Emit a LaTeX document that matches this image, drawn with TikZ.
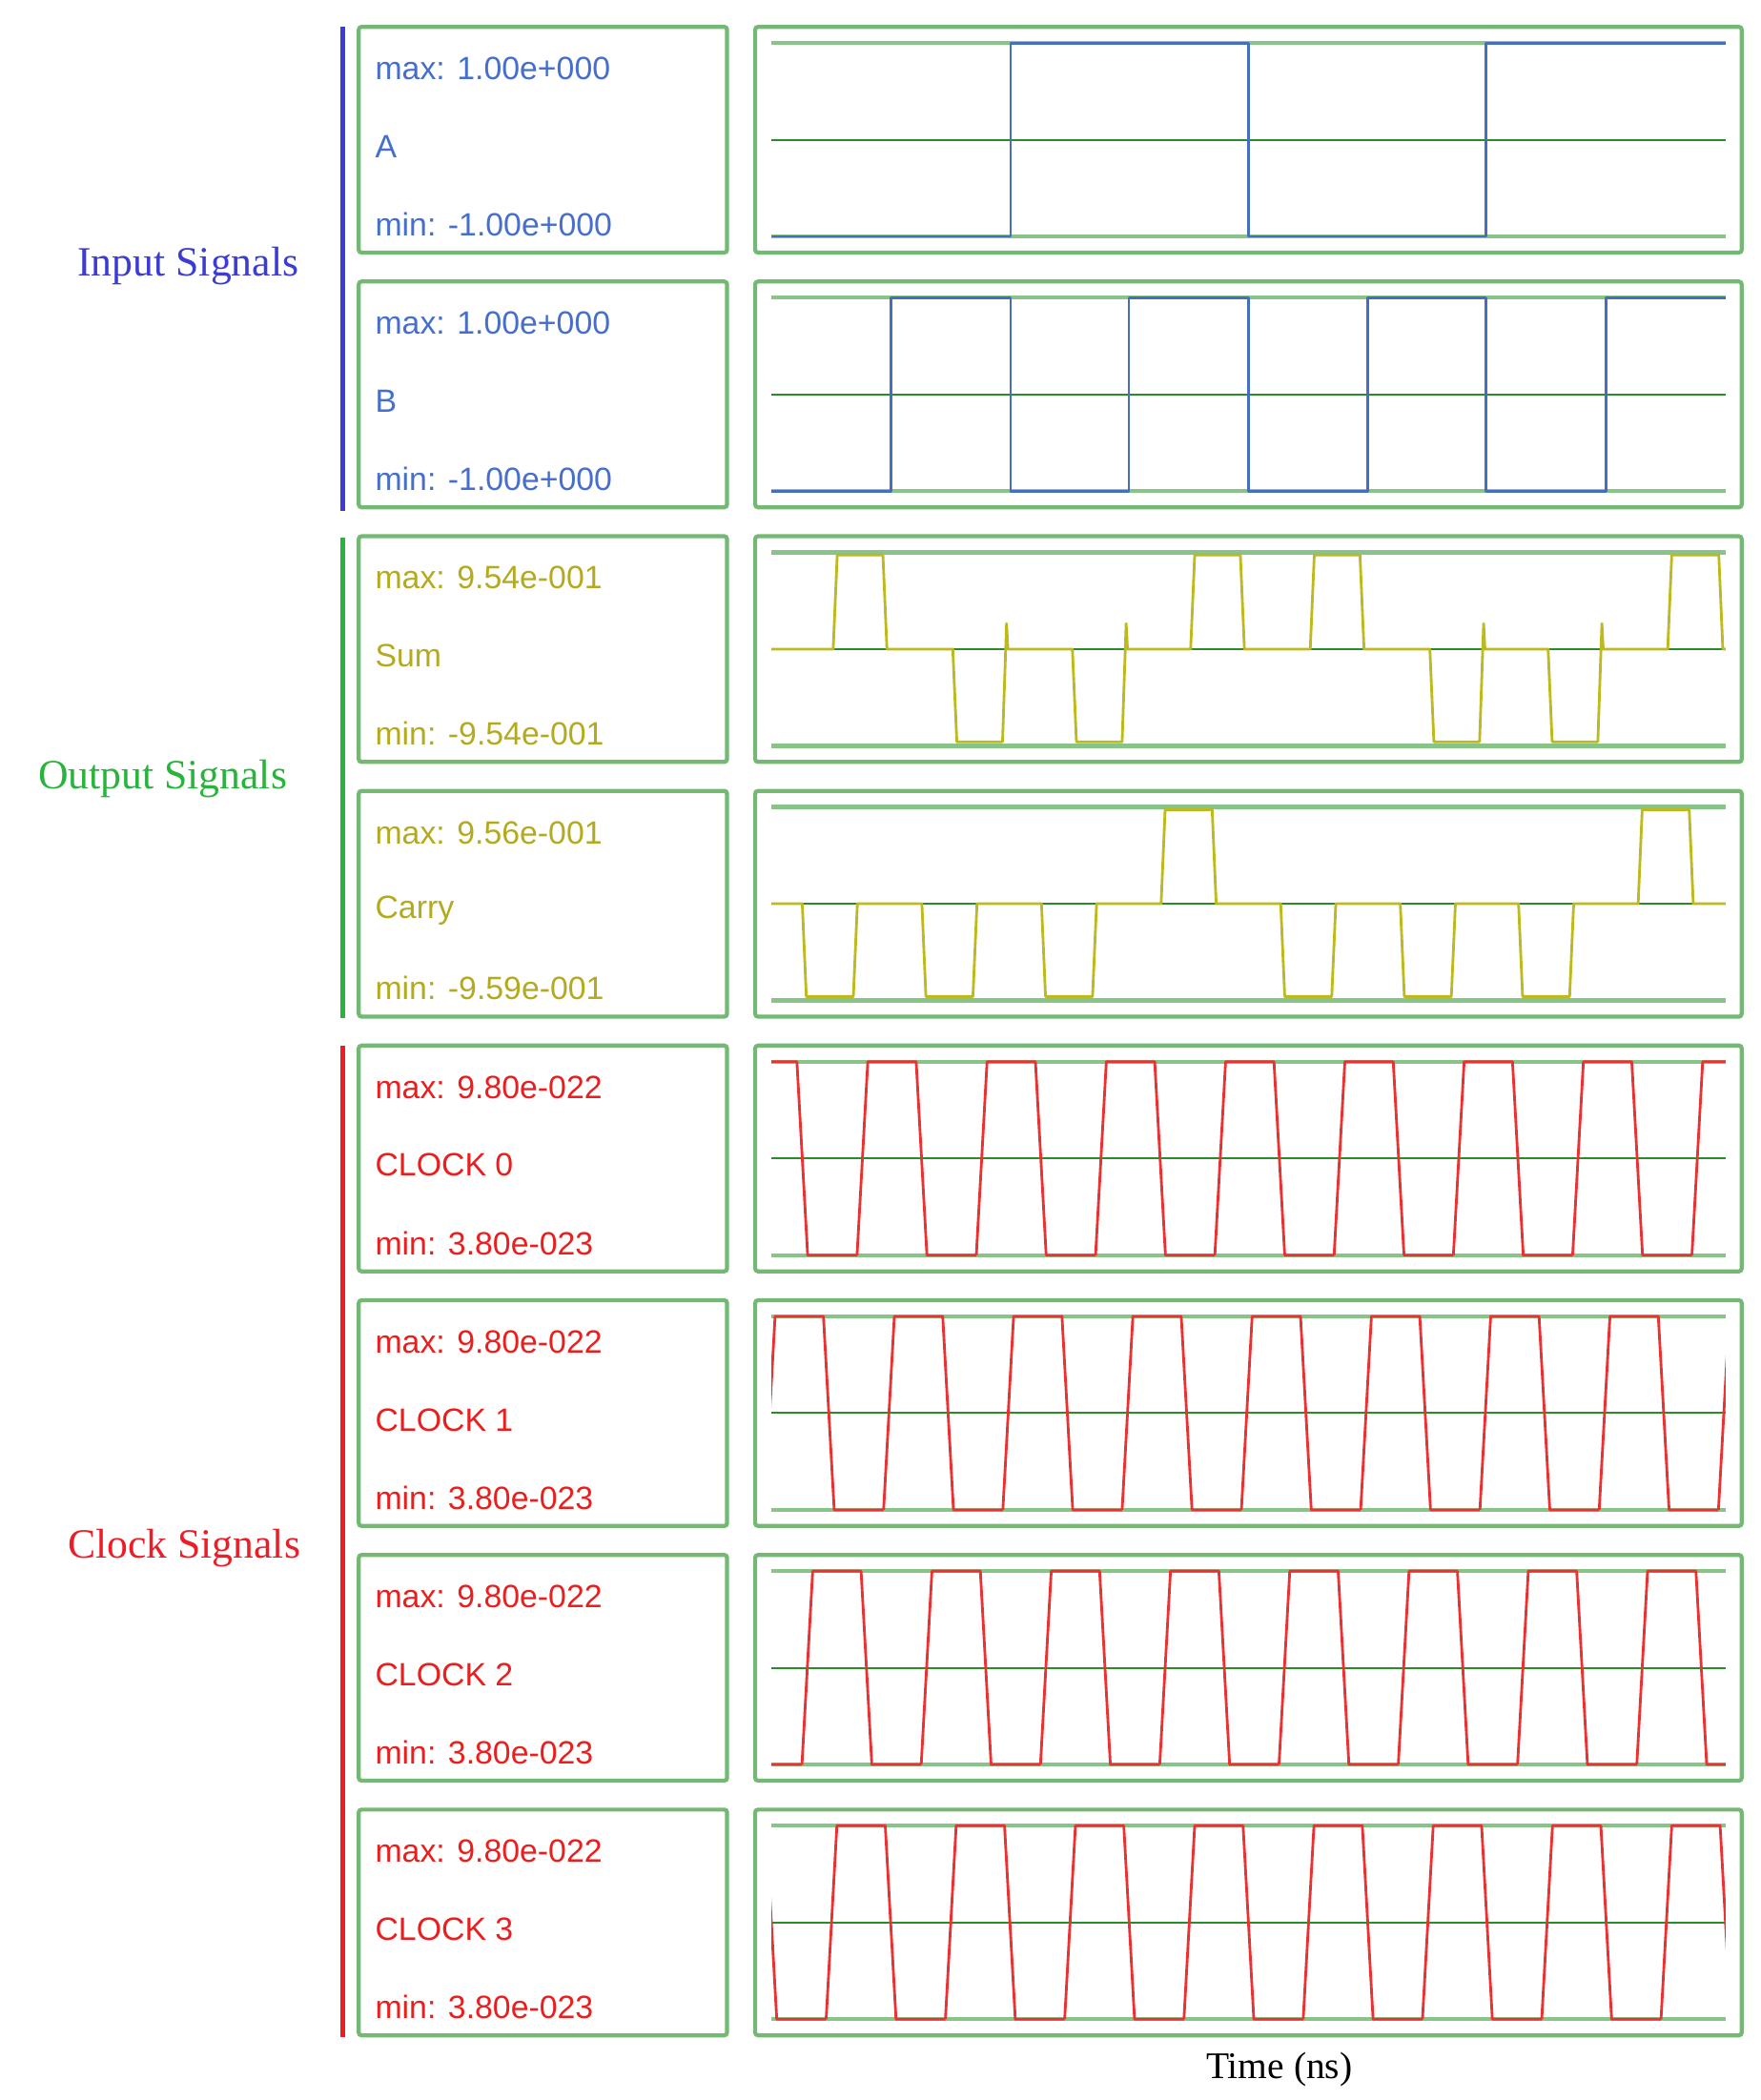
\documentclass[tikz,border=0pt]{standalone}
\usepackage{fontspec}
\setmainfont{Liberation Serif}
\newfontfamily\lab{Liberation Sans}
\definecolor{boxg}{RGB}{115,185,115}
\definecolor{midg}{RGB}{40,140,40}
\definecolor{wblue}{RGB}{70,110,190}
\definecolor{wyel}{RGB}{190,185,30}
\definecolor{wred}{RGB}{235,50,50}
\definecolor{tblue}{RGB}{70,110,205}
\definecolor{tyel}{RGB}{180,170,30}
\definecolor{tred}{RGB}{235,30,30}
\definecolor{gin}{RGB}{60,60,210}
\definecolor{gout}{RGB}{40,180,60}
\definecolor{gclk}{RGB}{235,30,40}
\tikzset{
 panel/.style={draw=boxg,line width=3pt,rounded corners=2pt},
 rail/.style={draw=boxg!85,line width=3pt},
 midline/.style={draw=midg,line width=1.4pt},
 wave/.style={line width=2pt,line join=round},
 lbl/.style={anchor=west,font=\lab\fontsize{24}{26}\selectfont,inner sep=0pt},
 grp/.style={font=\fontsize{31}{33}\selectfont,inner sep=0pt},
}
\newcommand{\Ptop}[1]{\pgfmathsetmacro{\T}{20+#1*189.55}}
\begin{document}
\begin{tikzpicture}[x=1pt,y=-1pt]
\useasboundingbox (0,0) rectangle (1310,1563);
% panels and rails
\foreach \i in {0,...,7}{
  \pgfmathsetmacro{\T}{20+\i*189.55}
  \draw[panel] (267,\T) rectangle (541,\T+168);
  \draw[panel] (562,\T) rectangle (1296,\T+168);
  \draw[rail] (574,\T+12) -- (1284,\T+12);
  \draw[rail] (574,\T+156) -- (1284,\T+156);
  \draw[midline] (574,\T+84) -- (1284,\T+84);
}
% bars
\draw[gin,line width=4pt] (255,20) -- (255,380);
\draw[gout,line width=4pt] (255,400) -- (255,758);
\draw[gclk,line width=4pt] (255,778) -- (255,1516);
\node[grp,text=gin] (gi) at (140,198) {Input Signals};
\node[grp,text=gout] (go) at (121,580) {Output Signals};
\node[grp,text=gclk] (gc) at (137,1152) {Clock Signals};
\node[font=\fontsize{28}{30}\selectfont,inner sep=0pt] (time) at (952,1540) {Time (ns)};
% labels
\foreach \i/\a/\b/\c/\col in {0/{max: 1.00e+000}/A/{min: -1.00e+000}/tblue,
 1/{max: 1.00e+000}/B/{min: -1.00e+000}/tblue,
 2/{max: 9.54e-001}/Sum/{min: -9.54e-001}/tyel,
 3/{max: 9.56e-001}/Carry/{min: -9.59e-001}/tyel,
 4/{max: 9.80e-022}/CLOCK 0/{min: 3.80e-023}/tred,
 5/{max: 9.80e-022}/CLOCK 1/{min: 3.80e-023}/tred,
 6/{max: 9.80e-022}/CLOCK 2/{min: 3.80e-023}/tred,
 7/{max: 9.80e-022}/CLOCK 3/{min: 3.80e-023}/tred}{
  \pgfmathsetmacro{\T}{20+\i*189.55}
  \node[lbl,text=\col] (mx\i) at (279,\T+31) {\a};
  \node[lbl,text=\col] (nm\i) at (279,\T+89) {\b};
  \node[lbl,text=\col] (mn\i) at (279,\T+147) {\c};
}
% A
\pgfmathsetmacro{\T}{20}
\draw[wave,wblue] (574,\T+156) -- (752,\T+156) -- (752,\T+12) -- (929,\T+12) -- (929,\T+156) -- (1106,\T+156) -- (1106,\T+12) -- (1284,\T+12);
% B
\pgfmathsetmacro{\T}{20+189.55}
\draw[wave,wblue] (574,\T+156) -- (663,\T+156) -- (663,\T+12) -- (752,\T+12) -- (752,\T+156) -- (840,\T+156) -- (840,\T+12) -- (929,\T+12) -- (929,\T+156) -- (1018,\T+156) -- (1018,\T+12) -- (1106,\T+12) -- (1106,\T+156) -- (1195,\T+156) -- (1195,\T+12) -- (1284,\T+12);
% Sum
\pgfmathsetmacro{\T}{20+2*189.55}
\pgfmathsetmacro{\H}{\T+14}\pgfmathsetmacro{\M}{\T+84}\pgfmathsetmacro{\L}{\T+153}\pgfmathsetmacro{\S}{\T+65}
\draw[wave,wyel] (574,\M) -- (620,\M) -- (623,\H) -- (657,\H) -- (660,\M) -- (709,\M) -- (712,\L) -- (746,\L) -- (749,\S) -- (750,\M)
 -- (798,\M) -- (801,\L) -- (835,\L) -- (838,\S) -- (839,\M) -- (886,\M) -- (889,\H) -- (923,\H) -- (926,\M)
 -- (975,\M) -- (978,\H) -- (1012,\H) -- (1015,\M) -- (1064,\M) -- (1067,\L) -- (1101,\L) -- (1104,\S) -- (1105,\M)
 -- (1152,\M) -- (1155,\L) -- (1189,\L) -- (1192,\S) -- (1193,\M) -- (1241,\M) -- (1244,\H) -- (1279,\H) -- (1282,\M) -- (1284,\M);
% Carry
\pgfmathsetmacro{\T}{20+3*189.55}
\pgfmathsetmacro{\H}{\T+14}\pgfmathsetmacro{\M}{\T+84}\pgfmathsetmacro{\L}{\T+153}
\draw[wave,wyel] (574,\M)
 \foreach \x/\lv in {597/\L,686/\L,775/\L,864/\H,953/\L,1042/\L,1130/\L,1219/\H}{
   -- (\x,\M) -- (\x+3,\lv) -- (\x+38,\lv) -- (\x+41,\M) } -- (1284,\M);
% clocks
\foreach \i/\r in {4/549,5/480,6/508,7/526}{
  \pgfmathsetmacro{\T}{20+\i*189.55}
  \pgfmathsetmacro{\H}{\T+12}\pgfmathsetmacro{\L}{\T+156}
  \begin{scope}
    \clip (574,\T) rectangle (1284,\T+168);
    \foreach \k in {-1,...,10}{
      \pgfmathsetmacro{\a}{\r+\k*88.75}
      \draw[wave,wred] (\a,\L) -- (\a+8,\H) -- (\a+44,\H) -- (\a+52,\L) -- (\a+88.75,\L);
    }
  \end{scope}
}
\end{tikzpicture}
\end{document}
